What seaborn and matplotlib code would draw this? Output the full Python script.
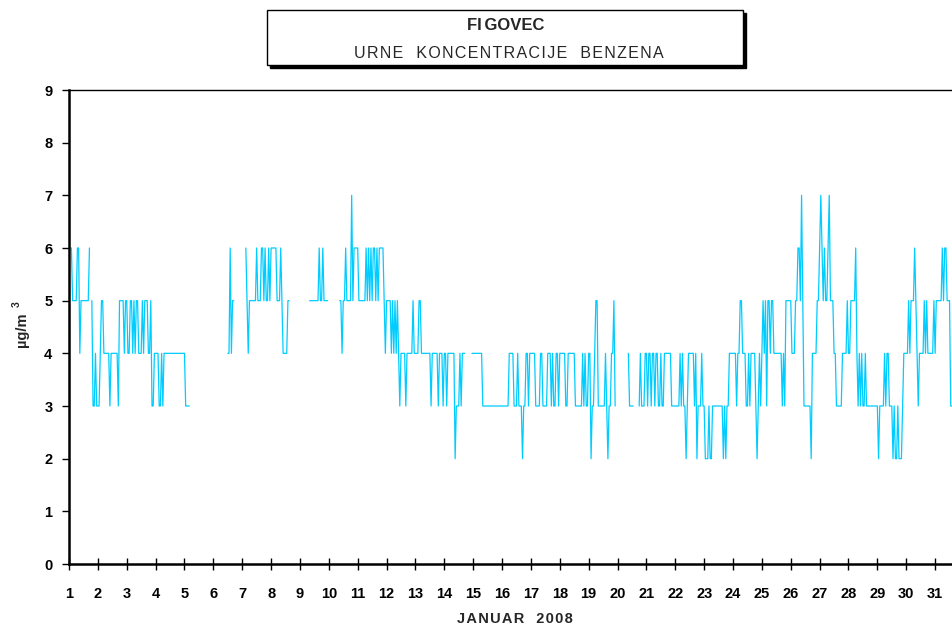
import numpy as np
import pandas as pd
import matplotlib
matplotlib.use("Agg")
import matplotlib.pyplot as plt
from matplotlib.patches import Rectangle
import seaborn as sns

N = None
# Hourly benzene concentrations (µg/m3), January 2008, hours 1..24 of each day
d01 = [6,6,5,5,5,5,6,6,4,5,5,5,5,5,5,5,6,N,5,3,3,4,3,3]
d02 = [3,4,5,5,4,4,4,4,4,3,4,4,4,4,4,4,3,5,5,5,5,4,5,5]
d03 = [4,4,5,5,4,5,4,5,5,4,4,4,5,4,5,5,5,4,4,5,3,3,4,4]
d04 = [4,4,3,3,4,3,4,4,4,4,4,4,4,4,4,4,4,4,4,4,4,4,4,4]
d05 = [3,3,3,3,N,N,N,N,N,N,N,N,N,N,N,N,N,N,N,N,N,N,N,N]
d06 = [N,N,N,N,N,N,N,N,N,N,N,4,4,6,4,5,5,N,N,N,N,N,N,N]
d07 = [N,N,6,5,4,5,5,5,5,5,5,6,5,5,5,6,6,5,6,5,5,6,5,6]
d08 = [6,6,6,6,5,5,5,6,5,4,4,4,4,5,5,N,N,N,N,N,N,N,N,N]
d09 = [N,N,N,N,N,N,N,5,5,5,5,5,5,5,5,6,5,5,6,5,5,5,5,N]
d10 = [N,N,N,N,N,N,N,N,5,5,4,5,5,6,5,5,5,5,7,5,6,6,6,6]
d11 = [5,5,5,5,5,5,6,5,6,5,6,5,6,6,5,6,5,6,6,6,6,5,4,5]
d12 = [5,5,5,4,5,4,5,4,5,4,3,4,4,4,4,3,4,4,4,4,4,5,4,4]
d13 = [4,4,5,5,4,4,4,4,4,4,4,4,3,4,4,4,4,4,3,4,4,4,3,4]
d14 = [4,3,4,4,4,4,4,4,2,3,3,3,4,3,4,4,4,N,N,N,N,N,4,4]
d15 = [4,4,4,4,4,4,4,3,3,3,3,3,3,3,3,3,3,3,3,3,3,3,3,3]
d16 = [3,3,3,3,3,4,4,4,4,3,3,3,4,3,3,3,2,3,3,4,4,3,4,4]
d17 = [4,4,4,3,3,3,3,4,4,3,3,3,3,4,4,4,3,4,3,3,4,4,3,4]
d18 = [4,4,4,4,3,3,4,4,4,4,4,4,3,3,3,3,3,3,4,3,4,3,3,4]
d19 = [4,2,3,3,4,5,5,3,3,3,3,3,3,4,3,2,3,3,4,4,5,3,N,N]
d20 = [N,N,N,N,N,N,N,N,4,3,3,3,3,N,N,N,N,3,4,3,3,3,4,4]
d21 = [3,4,4,3,4,4,3,4,4,3,3,4,3,3,4,4,4,4,4,4,3,3,3,3]
d22 = [3,3,3,4,3,4,3,3,2,3,4,4,4,4,4,3,4,2,3,3,3,4,3,3]
d23 = [2,2,2,3,2,2,3,3,3,3,3,3,3,3,3,2,3,2,3,3,4,4,4,4]
d24 = [4,4,3,4,4,5,5,4,4,4,3,3,4,3,4,4,4,4,3,2,3,4,3,4]
d25 = [5,4,5,3,5,5,4,5,5,4,4,4,4,4,4,4,3,4,3,5,5,5,5,5]
d26 = [4,4,4,5,5,6,6,5,7,5,3,3,3,3,3,3,2,4,4,4,4,5,5,6]
d27 = [7,6,5,6,5,5,6,7,5,5,5,4,4,3,3,3,3,3,4,4,4,4,5,4]
d28 = [4,5,5,5,5,6,4,3,4,3,4,3,3,4,3,3,3,3,3,3,3,3,3,3]
d29 = [2,3,3,3,3,4,3,4,4,3,3,3,2,3,2,2,3,2,2,2,3,4,4,4]
d30 = [4,5,4,5,5,5,6,5,4,3,4,4,4,4,5,4,5,4,4,4,4,4,5,4]
d31 = [5,5,5,5,5,6,5,6,6,5,5,5,3,3,3,3,4,4,4,4,4,4,4,4]

days = [d01,d02,d03,d04,d05,d06,d07,d08,d09,d10,d11,d12,d13,d14,d15,d16,
        d17,d18,d19,d20,d21,d22,d23,d24,d25,d26,d27,d28,d29,d30,d31]
day_ticks = list(range(1, 32))
y_ticks = list(range(0, 10))
title_main = "FIGOVEC"
title_sub = "URNE  KONCENTRACIJE  BENZENA"
x_label = "JANUAR  2008"
y_label = "µg/m"
y_label_sup = "3"

values = np.array([np.nan if v is None else v for d in days for v in d], dtype=float)
hours = np.arange(1, len(values) + 1)
df = pd.DataFrame({"x": 1 + hours / 24.0, "y": values})
df["seg"] = df["y"].isna().cumsum()
df = df.dropna()

sns.set_style("ticks")
plt.rcParams["font.family"] = ["Liberation Sans", "DejaVu Sans"]

HAIR = "\u200a"


def spaced(s):
    """Insert hair spaces between letters (letter-spaced look of the original)."""
    return HAIR.join(list(s))


W, H = 952, 629
fig = plt.figure(figsize=(W / 100, H / 100), dpi=100)
ax = fig.add_axes([69 / W, 1 - 564 / H, (W - 69) / W, (564 - 90) / H])

sns.lineplot(data=df, x="x", y="y", units="seg", estimator=None,
             color="#00CCFF", linewidth=0.9, ax=ax, legend=False)

ax.set_xlim(1, 1 + (W - 69) / 28.87)
ax.set_ylim(0, 9)
ax.set_xticks(day_ticks)
ax.set_xticklabels([str(t) for t in day_ticks], fontsize=10.5, fontweight="bold")
ax.set_yticks(y_ticks)
ax.set_yticklabels([str(t) for t in y_ticks], fontsize=10.5, fontweight="bold")
ax.tick_params(axis="x", direction="inout", length=9, width=1, pad=12, colors="black")
ax.tick_params(axis="y", direction="out", length=5, width=1, pad=7, colors="black")
ax.set_xlabel("")
ax.set_ylabel("")
for s in ["left", "bottom"]:
    ax.spines[s].set_linewidth(1.8)
    ax.spines[s].set_color("black")
ax.spines["top"].set_visible(True)
ax.spines["top"].set_linewidth(1.0)
ax.spines["top"].set_color("black")
ax.spines["right"].set_visible(False)

# title box with shadow
fig.patches.append(Rectangle((270 / W, 1 - 68 / H), 476 / W, 55 / H,
                             transform=fig.transFigure, facecolor="black",
                             edgecolor="black", zorder=1))
fig.patches.append(Rectangle((267 / W, 1 - 65 / H), 476 / W, 55 / H,
                             transform=fig.transFigure, facecolor="white",
                             edgecolor="black", linewidth=1.0, zorder=2))

fig.text(506 / W, 1 - 25 / H, title_main.replace("FI", "FI" + HAIR + HAIR, 1),
         ha="center", va="center", fontsize=12, fontweight="bold", zorder=3)
fig.text(509 / W, 1 - 54 / H, spaced(title_sub), ha="center", va="center",
         fontsize=11.5, zorder=3)

fig.text(515 / W, 1 - 619 / H, spaced(x_label), ha="center", va="center",
         fontsize=10.5, fontweight="bold")

fig.text(22 / W, 1 - 330 / H, y_label, rotation=90, ha="center", va="center",
         fontsize=10.5, fontweight="bold")
fig.text(17 / W, 1 - 304 / H, y_label_sup, rotation=90, ha="center", va="center",
         fontsize=7.5, fontweight="bold")

fig.savefig("out.png", dpi=100)
